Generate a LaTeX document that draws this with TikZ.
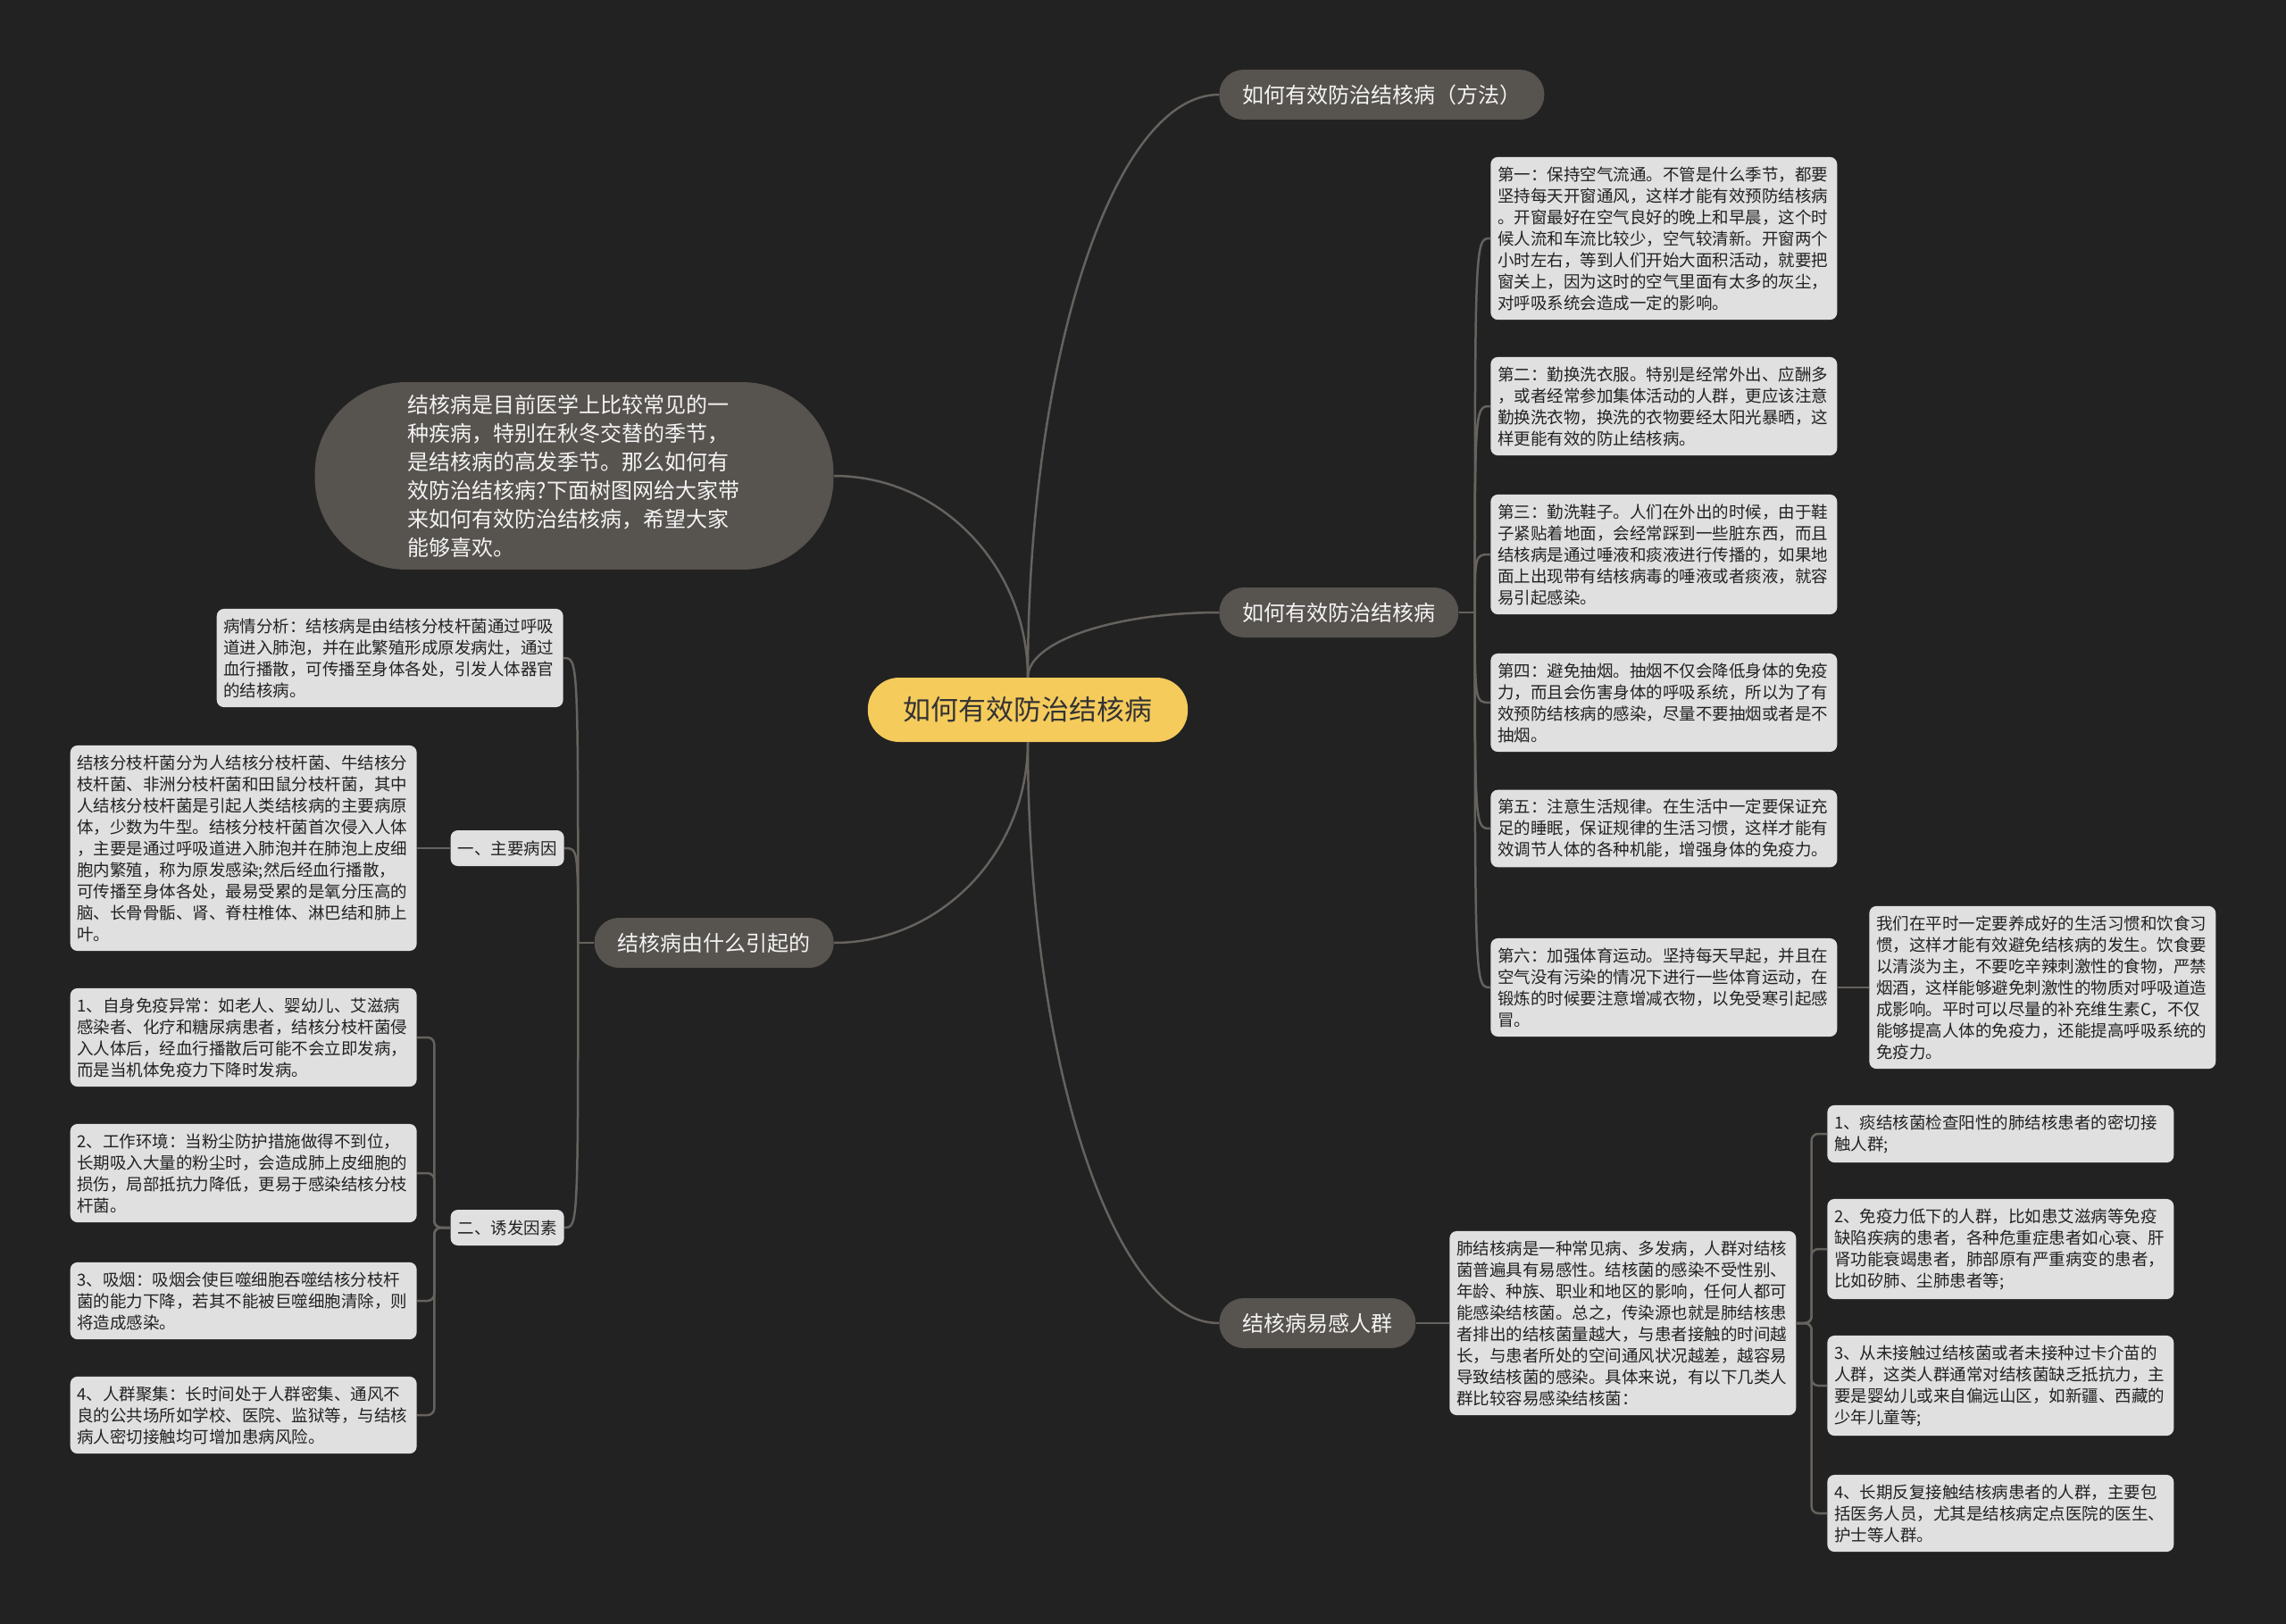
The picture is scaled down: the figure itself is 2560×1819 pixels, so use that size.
\documentclass[tikz,border=0pt]{standalone}
\usepackage{fontspec}
\setmainfont{Noto Sans CJK SC}
\usepackage{tikz}
\usetikzlibrary{positioning,calc}

\definecolor{bgc}{HTML}{222222}
\definecolor{linec}{HTML}{66625E}
\definecolor{rootc}{HTML}{F5CB5C}
\definecolor{roottxt}{HTML}{333333}
\definecolor{topicc}{HTML}{57534F}
\definecolor{topictxt}{HTML}{F4F4F4}
\definecolor{leafc}{HTML}{E0E0E0}
\definecolor{leaftxt}{HTML}{222222}

\newcommand\rootlink[2]{\draw[edgeline] (#1) .. controls ($(#1)!0.55!(#1 |- #2)$) and ($(#2)!0.55!(#1 |- #2)$) .. (#2);}
\newcommand\twiglink[2]{\draw[edgeline] (#1) .. controls (#1 |- #2) .. (#2);}

\begin{document}
\begin{tikzpicture}[x=0.02cm, y=-0.02cm,
  edgeline/.style={draw=linec, line width=0.05cm},
  rootbox/.style={fill=rootc, text=roottxt, rounded corners=0.7cm, minimum height=1.44cm, inner xsep=0.8cm, font=\fontsize{17.6}{21}\selectfont},
  topic/.style={fill=topicc, text=topictxt, rounded corners=0.55cm, minimum height=1.12cm, inner xsep=0.52cm, font=\fontsize{13.66}{18.2}\selectfont},
  intro/.style={fill=topicc, text=topictxt, rounded corners=2.05cm, minimum width=11.62cm, minimum height=4.2cm, text width=7.45cm, align=left, font=\fontsize{13.66}{18.2}\selectfont},
  leaf/.style={fill=leafc, text=leaftxt, rounded corners=0.16cm, text width=7.45cm, align=left, inner xsep=0.155cm, inner ysep=0.21cm, font=\fontsize{10.53}{13.66}\selectfont},
  tagbox/.style={fill=leafc, text=leaftxt, rounded corners=0.16cm, minimum height=0.8cm, inner xsep=0.16cm, font=\fontsize{10.53}{13.66}\selectfont}]

  \fill[bgc] (0,0) rectangle (2560,1819);
  \useasboundingbox (0,0) rectangle (2560,1819);

  \node[rootbox] (root) at (1151,795) {如何有效防治结核病};
  \node[topic, anchor=west] (fangfa) at (1365,106) {如何有效防治结核病（方法）};
  \node[topic, anchor=west] (fangzhi) at (1365,686) {如何有效防治结核病};
  \node[topic, anchor=west] (yigan) at (1365,1482) {结核病易感人群};
  \node[topic, anchor=east] (yinqi) at (934,1056) {结核病由什么引起的};
  \node[intro] (intro) at (643,533) {结核病是目前医学上比较常见的一\\种疾病，特别在秋冬交替的季节，\\是结核病的高发季节。那么如何有\\效防治结核病?下面树图网给大家带\\来如何有效防治结核病，希望大家\\能够喜欢。};

  \node[leaf, anchor=west] (fz1) at (1669,267) {第一：保持空气流通。不管是什么季节，都要\\坚持每天开窗通风，这样才能有效预防结核病\\。开窗最好在空气良好的晚上和早晨，这个时\\候人流和车流比较少，空气较清新。开窗两个\\小时左右，等到人们开始大面积活动，就要把\\窗关上，因为这时的空气里面有太多的灰尘，\\对呼吸系统会造成一定的影响。};
  \node[leaf, anchor=west] (fz2) at (1669,455) {第二：勤换洗衣服。特别是经常外出、应酬多\\，或者经常参加集体活动的人群，更应该注意\\勤换洗衣物，换洗的衣物要经太阳光暴晒，这\\样更能有效的防止结核病。};
  \node[leaf, anchor=west] (fz3) at (1669,621) {第三：勤洗鞋子。人们在外出的时候，由于鞋\\子紧贴着地面，会经常踩到一些脏东西，而且\\结核病是通过唾液和痰液进行传播的，如果地\\面上出现带有结核病毒的唾液或者痰液，就容\\易引起感染。};
  \node[leaf, anchor=west] (fz4) at (1669,787) {第四：避免抽烟。抽烟不仅会降低身体的免疫\\力，而且会伤害身体的呼吸系统，所以为了有\\效预防结核病的感染，尽量不要抽烟或者是不\\抽烟。};
  \node[leaf, anchor=west] (fz5) at (1669,928) {第五：注意生活规律。在生活中一定要保证充\\足的睡眠，保证规律的生活习惯，这样才能有\\效调节人体的各种机能，增强身体的免疫力。};
  \node[leaf, anchor=west] (fz6) at (1669,1106) {第六：加强体育运动。坚持每天早起，并且在\\空气没有污染的情况下进行一些体育运动，在\\锻炼的时候要注意增减衣物，以免受寒引起感\\冒。};
  \node[leaf, anchor=west] (fz6a) at (2093,1106) {我们在平时一定要养成好的生活习惯和饮食习\\惯，这样才能有效避免结核病的发生。饮食要\\以清淡为主，不要吃辛辣刺激性的食物，严禁\\烟酒，这样能够避免刺激性的物质对呼吸道造\\成影响。平时可以尽量的补充维生素C，不仅\\能够提高人体的免疫力，还能提高呼吸系统的\\免疫力。};

  \node[leaf, anchor=west] (yg) at (1623,1482) {肺结核病是一种常见病、多发病，人群对结核\\菌普遍具有易感性。结核菌的感染不受性别、\\年龄、种族、职业和地区的影响，任何人都可\\能感染结核菌。总之，传染源也就是肺结核患\\者排出的结核菌量越大，与患者接触的时间越\\长，与患者所处的空间通风状况越差，越容易\\导致结核菌的感染。具体来说，有以下几类人\\群比较容易感染结核菌：};
  \node[leaf, anchor=west] (yg1) at (2046,1270) {1、痰结核菌检查阳性的肺结核患者的密切接\\触人群;};
  \node[leaf, anchor=west] (yg2) at (2046,1399) {2、免疫力低下的人群，比如患艾滋病等免疫\\缺陷疾病的患者，各种危重症患者如心衰、肝\\肾功能衰竭患者，肺部原有严重病变的患者，\\比如矽肺、尘肺患者等;};
  \node[leaf, anchor=west] (yg3) at (2046,1552) {3、从未接触过结核菌或者未接种过卡介苗的\\人群，这类人群通常对结核菌缺乏抵抗力，主\\要是婴幼儿或来自偏远山区，如新疆、西藏的\\少年儿童等;};
  \node[leaf, anchor=west] (yg4) at (2046,1695) {4、长期反复接触结核病患者的人群，主要包\\括医务人员，尤其是结核病定点医院的医生、\\护士等人群。};

  \node[leaf, anchor=east] (bq) at (631,737) {病情分析：结核病是由结核分枝杆菌通过呼吸\\道进入肺泡，并在此繁殖形成原发病灶，通过\\血行播散，可传播至身体各处，引发人体器官\\的结核病。};
  \node[tagbox, anchor=east] (zy) at (632,950) {一、主要病因};
  \node[tagbox, anchor=east] (yf) at (632,1375) {二、诱发因素};
  \node[leaf, anchor=east] (zya) at (467,950) {结核分枝杆菌分为人结核分枝杆菌、牛结核分\\枝杆菌、非洲分枝杆菌和田鼠分枝杆菌，其中\\人结核分枝杆菌是引起人类结核病的主要病原\\体，少数为牛型。结核分枝杆菌首次侵入人体\\，主要是通过呼吸道进入肺泡并在肺泡上皮细\\胞内繁殖，称为原发感染;然后经血行播散，\\可传播至身体各处，最易受累的是氧分压高的\\脑、长骨骨骺、肾、脊柱椎体、淋巴结和肺上\\叶。};
  \node[leaf, anchor=east] (yf1) at (467,1162) {1、自身免疫异常：如老人、婴幼儿、艾滋病\\感染者、化疗和糖尿病患者，结核分枝杆菌侵\\入人体后，经血行播散后可能不会立即发病，\\而是当机体免疫力下降时发病。};
  \node[leaf, anchor=east] (yf2) at (467,1314) {2、工作环境：当粉尘防护措施做得不到位，\\长期吸入大量的粉尘时，会造成肺上皮细胞的\\损伤，局部抵抗力降低，更易于感染结核分枝\\杆菌。};
  \node[leaf, anchor=east] (yf3) at (467,1457) {3、吸烟：吸烟会使巨噬细胞吞噬结核分枝杆\\菌的能力下降，若其不能被巨噬细胞清除，则\\将造成感染。};
  \node[leaf, anchor=east] (yf4) at (467,1585) {4、人群聚集：长时间处于人群密集、通风不\\良的公共场所如学校、医院、监狱等，与结核\\病人密切接触均可增加患病风险。};

  \rootlink{root.north}{fangfa.west}
  \rootlink{root.north}{fangzhi.west}
  \rootlink{root.north}{intro.east}
  \rootlink{root.south}{yigan.west}
  \rootlink{root.south}{yinqi.east}

  \draw[edgeline] (fangzhi.east) -- ++(18,0) coordinate (jfz);
  \foreach \b in {fz1,fz2,fz3,fz4,fz5,fz6} {\twiglink{jfz}{\b.west}}
  \draw[edgeline] (fz6.east) -- (fz6a.west);

  \draw[edgeline] (yinqi.west) -- ++(-18,0) coordinate (jyq);
  \foreach \b in {bq,zy,yf} {\twiglink{jyq}{\b.east}}
  \draw[edgeline] (zy.west) -- (zya.east);

  \draw[edgeline] (yigan.east) -- (yg.west);
  \foreach \b in {yg1,yg2,yg3,yg4} {\draw[edgeline, rounded corners=0.15cm] (yg.east) -- ++(17,0) |- (\b.west);}
  \foreach \b in {yf1,yf2,yf3,yf4} {\draw[edgeline, rounded corners=0.15cm] (yf.west) -- ++(-18,0) |- (\b.east);}
\end{tikzpicture}
\end{document}
